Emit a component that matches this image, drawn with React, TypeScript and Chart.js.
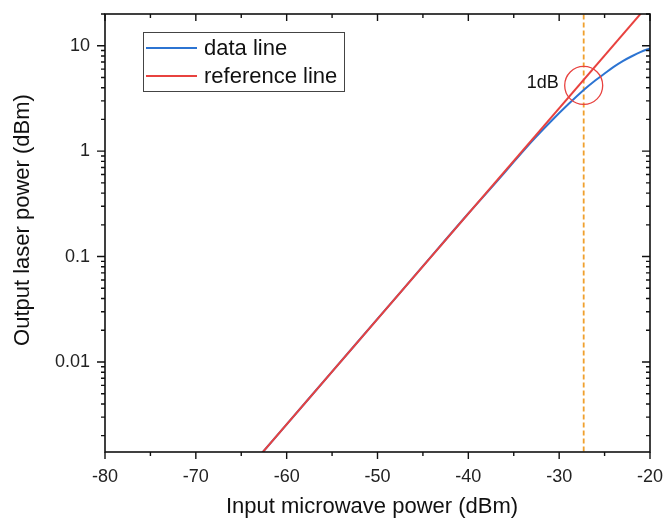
import React, { useEffect, useRef } from 'react';
import { Chart, registerables } from 'chart.js';
Chart.register(...registerables);

// ---- data ----
const dataX = [-65, -60, -55, -50, -45, -40, -37, -35, -33, -31, -29, -27.3, -26, -25, -24, -23, -22, -21, -20];
const dataY = [0.00081, 0.00256, 0.0081, 0.0256, 0.081, 0.256, 0.5, 0.79, 1.24, 1.88, 2.78, 3.8, 4.7, 5.45, 6.3, 7.15, 7.95, 8.75, 9.45];
const refX = [-65, -20];
const refY = [0.00081, 25.5];
const compressionX = [-27.3, -27.3];
const compressionY = [0.001, 30];
const markerX = -27.3;
const markerY = 4.2;
const markerLabel = '1dB';
const seriesLabels = ['data line', 'reference line'];
const xTickValues = [-80, -75, -70, -65, -60, -55, -50, -45, -40, -35, -30, -25, -20];
const xTickLabels = ['-80', '', '-70', '', '-60', '', '-50', '', '-40', '', '-30', '', '-20'];
const yDecades = [0.001, 0.01, 0.1, 1, 10];
const yMajorLabels = ['0.01', '0.1', '1', '10'];
const xTitle = 'Input microwave power (dBm)';
const yTitle = 'Output laser power (dBm)';

const BLUE = '#2c74d2';
const RED = '#e8423f';
const ORANGE = '#f0a02e';
const FONT = 'Arial, "Liberation Sans", sans-serif';

function buildYTicks() {
  const out: { value: number; major: boolean; label: string }[] = [];
  yDecades.forEach((d) => {
    for (let m = 1; m <= 9; m++) {
      const v = Number((m * d).toPrecision(3));
      if (v < 0.0014 || v > 20) continue;
      const lbl = m === 1 ? yMajorLabels.find((s) => Number(s) === v) || '' : '';
      out.push({ value: v, major: m === 1, label: lbl });
    }
  });
  out.push({ value: 20, major: false, label: '' });
  return out;
}

const zeroPad = (s: any) => {
  s.paddingLeft = 0;
  s.paddingRight = 0;
  s.paddingTop = 0;
  s.paddingBottom = 0;
};

const decor = {
  id: 'decor',
  afterDatasetsDraw(chart: any) {
    const { ctx, chartArea: a, scales } = chart;
    const xs = scales.x;
    const ys = scales.y;
    ctx.save();
    // marker circle and label
    const cx = xs.getPixelForValue(markerX);
    const cy = ys.getPixelForValue(markerY);
    ctx.strokeStyle = RED;
    ctx.lineWidth = 1.3;
    ctx.beginPath();
    ctx.arc(cx, cy, 19, 0, Math.PI * 2);
    ctx.stroke();
    ctx.fillStyle = '#111';
    ctx.font = `18px ${FONT}`;
    ctx.textAlign = 'right';
    ctx.textBaseline = 'middle';
    ctx.fillText(markerLabel, cx - 25, cy - 2);

    // frame
    ctx.strokeStyle = '#111';
    ctx.lineWidth = 1.6;
    ctx.strokeRect(a.left, a.top, a.right - a.left, a.bottom - a.top);

    // ticks
    ctx.lineWidth = 1.4;
    ctx.beginPath();
    xs.ticks.forEach((t: any) => {
      const px = xs.getPixelForValue(t.value);
      const len = t.value % 10 === 0 ? 7 : 4;
      ctx.moveTo(px, a.bottom);
      ctx.lineTo(px, a.bottom + len);
      ctx.moveTo(px, a.top);
      ctx.lineTo(px, a.top + len);
    });
    ys.ticks.forEach((t: any) => {
      const py = ys.getPixelForValue(t.value);
      const len = t.major ? 8 : 4;
      ctx.moveTo(a.left - len, py);
      ctx.lineTo(a.left, py);
      ctx.moveTo(a.right - len, py);
      ctx.lineTo(a.right, py);
    });
    ctx.stroke();

    // legend
    ctx.strokeStyle = '#444';
    ctx.lineWidth = 1;
    ctx.strokeRect(143.5, 32.5, 201, 59);
    const rows = [48, 76];
    chart.data.datasets.slice(0, 2).forEach((ds: any, i: number) => {
      ctx.strokeStyle = ds.borderColor;
      ctx.lineWidth = 2;
      ctx.beginPath();
      ctx.moveTo(146, rows[i]);
      ctx.lineTo(197, rows[i]);
      ctx.stroke();
      ctx.fillStyle = '#111';
      ctx.font = `22px ${FONT}`;
      ctx.textAlign = 'left';
      ctx.textBaseline = 'middle';
      ctx.fillText(ds.label, 204, rows[i] + 1);
    });

    // axis titles
    ctx.fillStyle = '#111';
    ctx.font = `22px ${FONT}`;
    ctx.textAlign = 'center';
    ctx.textBaseline = 'middle';
    ctx.fillText(xTitle, 372, 507);
    ctx.translate(23, 220);
    ctx.rotate(-Math.PI / 2);
    ctx.fillText(yTitle, 0, 0);
    ctx.restore();
  },
};

export default function App() {
  const ref = useRef<HTMLCanvasElement | null>(null);
  useEffect(() => {
    if (!ref.current) return;
    const yTicks = buildYTicks();
    const chart = new Chart(ref.current, {
      type: 'line',
      data: {
        datasets: [
          {
            label: seriesLabels[0],
            data: dataX.map((x, i) => ({ x, y: dataY[i] })),
            borderColor: BLUE,
            borderWidth: 2,
            pointRadius: 0,
            cubicInterpolationMode: 'monotone',
            order: 2,
          },
          {
            label: seriesLabels[1],
            data: refX.map((x, i) => ({ x, y: refY[i] })),
            borderColor: RED,
            borderWidth: 2,
            pointRadius: 0,
            order: 1,
          },
          {
            label: '',
            data: compressionX.map((x, i) => ({ x, y: compressionY[i] })),
            borderColor: ORANGE,
            borderWidth: 1.8,
            borderDash: [5, 3],
            pointRadius: 0,
            order: 3,
          },
        ],
      },
      options: {
        animation: false,
        responsive: true,
        maintainAspectRatio: false,
        layout: { padding: { left: 0, top: 14, right: 13, bottom: 0 } },
        plugins: { legend: { display: false }, tooltip: { enabled: false } },
        scales: {
          x: {
            type: 'linear',
            min: -80,
            max: -20,
            afterBuildTicks: (s: any) => {
              s.ticks = xTickValues.map((v) => ({ value: v }));
            },
            afterFit: (s: any) => {
              s.height = 67;
              zeroPad(s);
            },
            grid: { display: true, drawOnChartArea: false, drawTicks: false, tickLength: 0 },
            border: { display: false },
            ticks: {
              autoSkip: false,
              maxRotation: 0,
              padding: 14,
              color: '#222',
              font: { family: FONT, size: 18 },
              callback: (v: any, i: number) => xTickLabels[i] ?? '',
            },
          },
          y: {
            type: 'logarithmic',
            min: 0.0014,
            max: 20,
            afterBuildTicks: (s: any) => {
              s.ticks = yTicks.map((t) => ({ value: t.value, major: t.major }));
            },
            afterFit: (s: any) => {
              s.width = 105;
              zeroPad(s);
            },
            grid: { display: true, drawOnChartArea: false, drawTicks: false, tickLength: 0 },
            border: { display: false },
            ticks: {
              autoSkip: false,
              padding: 15,
              color: '#222',
              font: { family: FONT, size: 18 },
              callback: (v: any, i: number) => yTicks[i]?.label ?? '',
            },
          },
        },
      },
      plugins: [decor],
    } as any);
    return () => chart.destroy();
  }, []);
  return (
    <div style={{ position: 'fixed', left: 0, top: 0, width: 663, height: 519, background: '#fff' }}>
      <canvas ref={ref} />
    </div>
  );
}
